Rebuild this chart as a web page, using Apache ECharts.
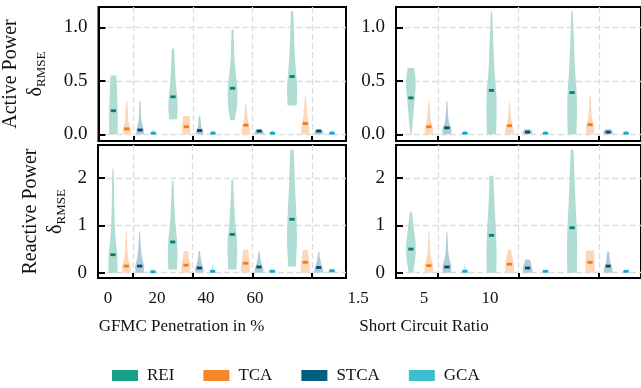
<!DOCTYPE html>
<html>
<head>
<meta charset="utf-8">
<script src="https://cdn.jsdelivr.net/npm/echarts@6/dist/echarts.min.js"></script>
<style>html,body{margin:0;padding:0;background:#fff}#c{width:641px;height:388px}</style>
</head>
<body>
<div id="c"></div>
<script>
// ---------------- data ----------------
const gfmcLabels = ['0', '20', '40', '60'];
const scrLabels = ['1.5', '5', '10'];
const methods = ['REI', 'TCA', 'STCA', 'GCA'];
const activeTicks = [0, 0.5, 1.0];
const reactiveTicks = [0, 1, 2];

// each violin: [min, max, median, relative widths from bottom to top (7 values)]
const activeGfmcREI = [
  [0.00, 0.55, 0.22, 0.86, 0.90, 0.90, 0.85, 0.78, 0.70, 0.62],
  [0.14, 0.80, 0.35, 0.85, 0.95, 0.85, 0.60, 0.45, 0.35, 0.25],
  [0.13, 0.98, 0.43, 0.50, 0.95, 1.00, 0.70, 0.40, 0.30, 0.20],
  [0.27, 1.15, 0.54, 0.95, 1.05, 0.85, 0.60, 0.45, 0.35, 0.25]];
const activeGfmcTCA = [
  [0.00, 0.31, 0.05, 0.85, 0.80, 0.45, 0.30, 0.25, 0.20, 0.12],
  [0.00, 0.17, 0.07, 0.80, 0.85, 0.85, 0.85, 0.80, 0.75, 0.70],
  [0.00, 0.28, 0.085, 0.85, 0.85, 0.60, 0.40, 0.30, 0.20, 0.12],
  [0.00, 0.36, 0.10, 0.80, 0.85, 0.60, 0.40, 0.30, 0.20, 0.10]];
const activeGfmcSTCA = [
  [0.00, 0.31, 0.04, 0.80, 0.70, 0.40, 0.25, 0.20, 0.15, 0.10],
  [0.00, 0.17, 0.035, 0.80, 0.75, 0.45, 0.30, 0.25, 0.20, 0.12],
  [0.00, 0.05, 0.03, 0.85, 0.95, 0.95, 0.90, 0.80, 0.60, 0.35],
  [0.00, 0.05, 0.03, 0.85, 0.95, 0.95, 0.90, 0.80, 0.60, 0.35]];
const activeGfmcGCA = [
  [0.00, 0.05, 0.01, 0.65, 0.60, 0.40, 0.28, 0.20, 0.13, 0.08],
  [0.00, 0.04, 0.01, 0.65, 0.60, 0.40, 0.28, 0.20, 0.13, 0.08],
  [0.00, 0.04, 0.01, 0.75, 0.70, 0.50, 0.35, 0.25, 0.15, 0.08],
  [0.00, 0.04, 0.01, 0.75, 0.70, 0.50, 0.35, 0.25, 0.15, 0.08]];

const activeScrREI = [
  [0.00, 0.62, 0.34, 0.15, 0.35, 0.55, 0.75, 0.95, 0.95, 0.70],
  [0.00, 1.15, 0.41, 0.95, 1.05, 1.00, 0.65, 0.45, 0.30, 0.15],
  [0.00, 1.15, 0.39, 0.90, 1.00, 0.95, 0.65, 0.45, 0.30, 0.15]];
const activeScrTCA = [
  [0.00, 0.31, 0.07, 0.85, 0.85, 0.55, 0.35, 0.25, 0.18, 0.10],
  [0.00, 0.30, 0.08, 0.85, 0.85, 0.55, 0.35, 0.25, 0.18, 0.10],
  [0.00, 0.36, 0.09, 0.85, 0.85, 0.55, 0.35, 0.25, 0.18, 0.10]];
const activeScrSTCA = [
  [0.00, 0.31, 0.06, 0.85, 0.95, 0.50, 0.30, 0.20, 0.15, 0.10],
  [0.00, 0.05, 0.02, 0.90, 1.00, 1.00, 0.95, 0.85, 0.65, 0.40],
  [0.00, 0.05, 0.02, 0.90, 1.00, 1.00, 0.95, 0.85, 0.65, 0.40]];
const activeScrGCA = [
  [0.00, 0.04, 0.01, 0.70, 0.65, 0.45, 0.30, 0.20, 0.12, 0.08],
  [0.00, 0.04, 0.01, 0.70, 0.65, 0.45, 0.30, 0.20, 0.12, 0.08],
  [0.00, 0.04, 0.01, 0.70, 0.65, 0.45, 0.30, 0.20, 0.12, 0.08]];

const reactiveGfmcREI = [
  [0.00, 2.20, 0.38, 0.95, 0.90, 0.55, 0.35, 0.25, 0.20, 0.12],
  [0.07, 1.94, 0.65, 0.90, 1.00, 0.90, 0.60, 0.40, 0.28, 0.15],
  [0.07, 1.97, 0.81, 0.85, 1.00, 0.95, 0.65, 0.45, 0.30, 0.18],
  [0.13, 2.60, 1.13, 0.80, 1.00, 1.00, 0.85, 0.65, 0.50, 0.35]];
const reactiveGfmcTCA = [
  [0.00, 0.87, 0.14, 0.85, 0.85, 0.45, 0.30, 0.20, 0.15, 0.10],
  [0.00, 0.46, 0.16, 0.85, 0.95, 0.95, 0.80, 0.65, 0.55, 0.45],
  [0.00, 0.49, 0.20, 0.85, 0.95, 0.95, 0.85, 0.70, 0.60, 0.50],
  [0.00, 0.48, 0.22, 0.85, 0.95, 0.95, 0.85, 0.70, 0.60, 0.50]];
const reactiveGfmcSTCA = [
  [0.00, 0.87, 0.14, 0.85, 0.90, 0.55, 0.35, 0.25, 0.15, 0.10],
  [0.00, 0.46, 0.10, 0.85, 0.90, 0.65, 0.45, 0.30, 0.20, 0.12],
  [0.00, 0.45, 0.12, 0.85, 0.90, 0.65, 0.45, 0.30, 0.20, 0.12],
  [0.00, 0.44, 0.11, 0.85, 0.90, 0.65, 0.45, 0.30, 0.20, 0.12]];
const reactiveGfmcGCA = [
  [0.00, 0.07, 0.02, 0.75, 0.70, 0.55, 0.40, 0.30, 0.20, 0.10],
  [0.00, 0.18, 0.03, 0.65, 0.50, 0.30, 0.20, 0.15, 0.12, 0.08],
  [0.00, 0.07, 0.03, 0.85, 0.90, 0.85, 0.75, 0.60, 0.45, 0.30],
  [0.00, 0.08, 0.04, 0.85, 0.90, 0.85, 0.75, 0.60, 0.45, 0.30]];

const reactiveScrREI = [
  [0.00, 1.28, 0.50, 0.50, 0.80, 1.00, 0.95, 0.70, 0.45, 0.25],
  [0.00, 2.05, 0.79, 1.00, 1.05, 1.00, 0.85, 0.65, 0.50, 0.40],
  [0.00, 2.60, 0.95, 1.00, 1.05, 1.00, 0.80, 0.60, 0.45, 0.30]];
const reactiveScrTCA = [
  [0.00, 0.87, 0.15, 0.85, 0.90, 0.50, 0.30, 0.22, 0.15, 0.10],
  [0.00, 0.49, 0.18, 0.85, 0.95, 0.95, 0.80, 0.60, 0.45, 0.30],
  [0.00, 0.47, 0.22, 0.90, 0.95, 0.95, 0.95, 0.90, 0.90, 0.85]];
const reactiveScrSTCA = [
  [0.00, 0.87, 0.12, 0.85, 0.90, 0.50, 0.30, 0.20, 0.15, 0.10],
  [0.00, 0.28, 0.10, 0.90, 1.00, 0.95, 0.85, 0.75, 0.60, 0.50],
  [0.00, 0.44, 0.14, 0.85, 0.90, 0.65, 0.45, 0.35, 0.30, 0.20]];
const reactiveScrGCA = [
  [0.00, 0.18, 0.03, 0.65, 0.50, 0.30, 0.20, 0.15, 0.12, 0.08],
  [0.00, 0.06, 0.03, 0.80, 0.85, 0.80, 0.65, 0.50, 0.35, 0.20],
  [0.00, 0.06, 0.03, 0.80, 0.85, 0.80, 0.65, 0.50, 0.35, 0.20]];

// ---------------- style ----------------
const FONT = 'Liberation Serif';
const baseColors = ['#17a084', '#f5862a', '#005f80', '#3abfcf'];
const fillColors = ['#afdcd3', '#fdd7b9', '#b0cbd8', '#c0eaf0'];
const medColors = ['#0b7d62', '#f57a10', '#004a6e', '#17a6c9'];
const OFFSETS = [-0.335, -0.112, 0.112, 0.335];
const HALF = 4.8;

const panelData = [
  [activeGfmcREI, activeGfmcTCA, activeGfmcSTCA, activeGfmcGCA],
  [activeScrREI, activeScrTCA, activeScrSTCA, activeScrGCA],
  [reactiveGfmcREI, reactiveGfmcTCA, reactiveGfmcSTCA, reactiveGfmcGCA],
  [reactiveScrREI, reactiveScrTCA, reactiveScrSTCA, reactiveScrGCA]
];

function violinRender(m) {
  return function (params, api) {
    const g = api.value(0), lo = api.value(1), hi = api.value(2), med = api.value(3);
    const w = [];
    for (let k = 0; k < 7; k++) w.push(api.value(4 + k));
    const n = w.length;
    const xc = g + OFFSETS[m];
    const SUB = 6;
    const right = [], left = [];
    for (let i = 0; i <= (n - 1) * SUB; i++) {
      const t = i / SUB;
      const k = Math.min(Math.floor(t), n - 2);
      const f = t - k;
      const p0 = w[Math.max(k - 1, 0)], p1 = w[k], p2 = w[k + 1], p3 = w[Math.min(k + 2, n - 1)];
      let v = 0.5 * ((2 * p1) + (-p0 + p2) * f + (2 * p0 - 5 * p1 + 4 * p2 - p3) * f * f + (-p0 + 3 * p1 - 3 * p2 + p3) * f * f * f);
      v = Math.max(v, 0.06);
      const yv = lo + (hi - lo) * t / (n - 1);
      const pt = api.coord([xc, yv]);
      const hw = v * HALF;
      right.push([pt[0] + hw, pt[1]]);
      left.push([pt[0] - hw, pt[1]]);
    }
    const points = right.concat(left.reverse());
    const mp = api.coord([xc, med]);
    return {
      type: 'group',
      children: [
        { type: 'polygon', shape: { points: points }, style: { fill: fillColors[m] } },
        { type: 'rect', shape: { x: mp[0] - 2.6, y: mp[1] - 1.4, width: 5.2, height: 2.8 }, style: { fill: medColors[m] } }
      ]
    };
  };
}

const panels = [
  { left: 98, top: 7, width: 248, height: 134, xmin: -0.586, xmax: 3.57, ymin: -0.063, ymax: 1.19, ticks: activeTicks, fmt: v => v.toFixed(1), n: 4 },
  { left: 396, top: 7, width: 246, height: 134, xmin: -0.52, xmax: 2.52, ymin: -0.063, ymax: 1.19, ticks: activeTicks, fmt: v => v.toFixed(1), n: 3 },
  { left: 98, top: 145, width: 248, height: 133, xmin: -0.586, xmax: 3.57, ymin: -0.112, ymax: 2.70, ticks: reactiveTicks, fmt: v => String(v), n: 4 },
  { left: 396, top: 145, width: 246, height: 133, xmin: -0.52, xmax: 2.52, ymin: -0.112, ymax: 2.70, ticks: reactiveTicks, fmt: v => String(v), n: 3 }
];

const splitStyle = { show: true, lineStyle: { color: '#dddddd', width: 1.3, type: [6, 3] } };
const grids = [], xAxes = [], yAxes = [], series = [];
panels.forEach((p, i) => {
  grids.push({ left: p.left, top: p.top, width: p.width, height: p.height, show: true, borderColor: '#000', borderWidth: 2, backgroundColor: 'transparent' });
  const xt = [];
  for (let k = 0; k < p.n; k++) xt.push(k);
  xAxes.push({
    gridIndex: i, type: 'value', min: p.xmin, max: p.xmax,
    axisLine: { show: true, onZero: false, lineStyle: { color: '#000', width: 2 } },
    axisTick: { show: true, inside: true, length: 5, customValues: xt, lineStyle: { color: '#000', width: 2 } },
    axisLabel: { show: false },
    splitLine: splitStyle
  });
  let yname = '';
  let gap = 0;
  if (i === 0) { yname = '{t|Active Power}\n{d|δ}{s|RMSE}'; gap = 50; }
  if (i === 2) { yname = '{t|Reactive Power}\n{d|δ}{s|RMSE}'; gap = 30; }
  yAxes.push({
    gridIndex: i, type: 'value', min: p.ymin, max: p.ymax,
    axisLine: { show: true, onZero: false, lineStyle: { color: '#000', width: 2 } },
    axisTick: { show: true, inside: true, length: 7, customValues: p.ticks, lineStyle: { color: '#000', width: 2 } },
    axisLabel: { show: true, customValues: p.ticks, formatter: p.fmt, fontFamily: FONT, fontSize: 19, color: '#111', margin: 11 },
    splitLine: splitStyle,
    name: yname, nameLocation: 'middle', nameRotate: 90, nameGap: gap,
    nameTextStyle: {
      color: '#111', fontFamily: FONT,
      rich: {
        t: { fontFamily: FONT, fontSize: 20, lineHeight: 25, color: '#111' },
        d: { fontFamily: FONT, fontSize: 20, lineHeight: 25, color: '#111' },
        s: { fontFamily: FONT, fontSize: 13, lineHeight: 14, verticalAlign: 'bottom', color: '#111' }
      }
    }
  });
  panelData[i].forEach((arr, m) => {
    series.push({
      type: 'custom', name: methods[m], xAxisIndex: i, yAxisIndex: i,
      itemStyle: { color: baseColors[m] },
      renderItem: violinRender(m),
      encode: { x: 0, y: 1 },
      data: arr.map((v, g) => [g].concat(v)),
      silent: true, clip: true
    });
  });
});

// label-only axes for category names
const labelAxes = [
  { left: 83.5, width: 196, data: gfmcLabels, name: 'GFMC Penetration in %' },
  { left: 325, width: 198, data: scrLabels, name: 'Short Circuit Ratio' }
];
labelAxes.forEach((la, j) => {
  const gi = grids.length;
  grids.push({ left: la.left, width: la.width, top: 145, height: 133, show: false });
  xAxes.push({
    gridIndex: gi, type: 'category', data: la.data, boundaryGap: true,
    axisLine: { show: false }, axisTick: { show: false }, splitLine: { show: false },
    axisLabel: { fontFamily: FONT, fontSize: 17, color: '#111', margin: 12 },
    name: la.name, nameLocation: 'middle', nameGap: 40,
    nameTextStyle: { fontFamily: FONT, fontSize: 17, color: '#111' }
  });
  yAxes.push({ gridIndex: gi, type: 'value', show: false, min: 0, max: 1 });
});

const chart = echarts.init(document.getElementById('c'), null, { renderer: 'canvas' });
chart.setOption({
  animation: false,
  backgroundColor: '#fff',
  textStyle: { fontFamily: FONT },
  grid: grids,
  xAxis: xAxes,
  yAxis: yAxes,
  legend: {
    data: methods, left: 112, top: 367, padding: 0, icon: 'rect', itemWidth: 26, itemHeight: 11, itemGap: 29,
    textStyle: { fontFamily: FONT, fontSize: 17, color: '#111', padding: [0, 0, 0, 4] },
    selectedMode: false
  },
  series: series
});
</script>
</body>
</html>
